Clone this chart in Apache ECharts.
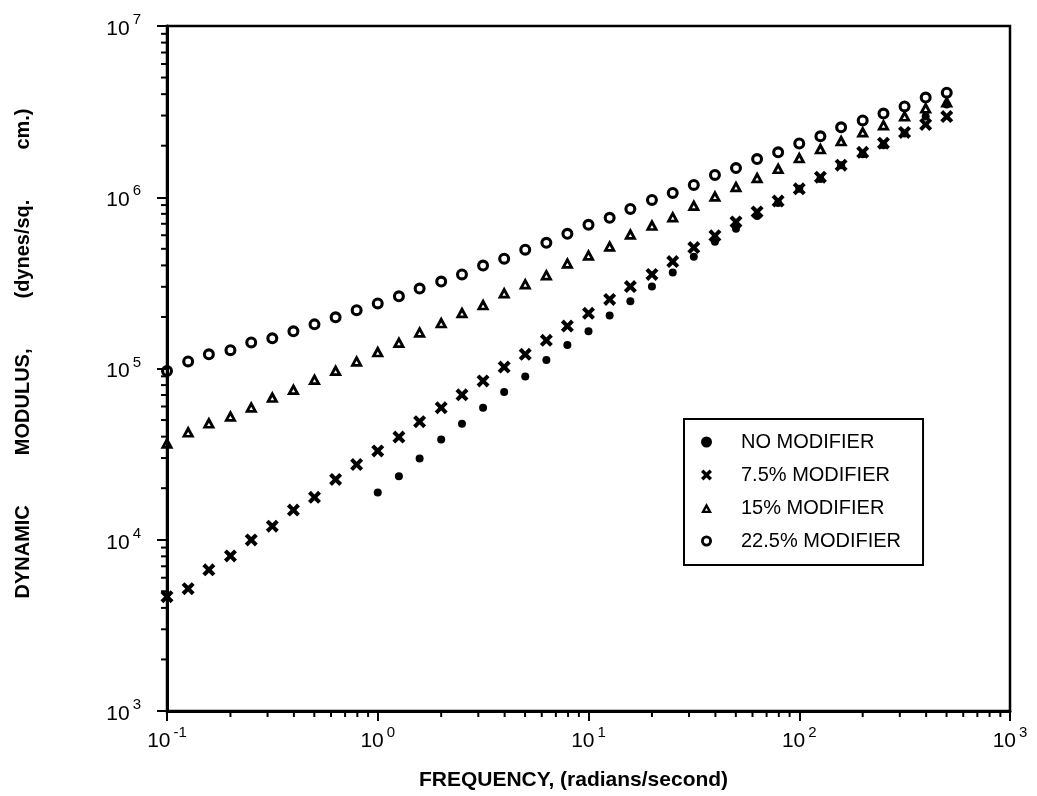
<!DOCTYPE html>
<html>
<head>
<meta charset="utf-8">
<script src="https://cdn.jsdelivr.net/npm/echarts@6/dist/echarts.min.js"></script>
<style>
  html, body { margin: 0; padding: 0; background: #fff; }
  #main { width: 1037px; height: 796px; }
</style>
</head>
<body>
<div id="main"></div>
<script>
// frequency (radians/second), 10 points per decade
var freq = [0.1, 0.126, 0.158, 0.2, 0.251, 0.316, 0.398, 0.501, 0.631, 0.794,
            1, 1.26, 1.58, 2, 2.51, 3.16, 3.98, 5.01, 6.31, 7.94,
            10, 12.6, 15.8, 20, 25.1, 31.6, 39.8, 50.1, 63.1, 79.4,
            100, 126, 158, 200, 251, 316, 398, 501]

// dynamic modulus (dynes/sq. cm.)
// no modifier starts at 1 rad/s
var noModifier = [18900, 23500, 29800, 38500, 47600, 59000, 73000, 89900, 112000, 137000,
                  165000, 204000, 247000, 301000, 363000, 450000, 550000, 654000, 778000, 926000,
                  1120000, 1280000, 1540000, 1780000, 2010000, 2360000, 2960000, 3480000]
var mod75 = [4650, 5180, 6670, 8050, 9970, 12000, 14900, 17700, 22500, 27500,
             33000, 39800, 48900, 59000, 70200, 84600, 102000, 121000, 146000, 177000,
             210000, 253000, 301000, 354000, 421000, 508000, 596000, 718000, 821000, 951000,
             1120000, 1310000, 1540000, 1830000, 2070000, 2390000, 2660000, 2960000]
var mod15 = [36900, 42800, 48300, 53000, 59800, 68300, 76000, 86900, 98000, 111000,
             126000, 143000, 164000, 186000, 213000, 237000, 278000, 314000, 354000, 415000,
             462000, 521000, 612000, 690000, 773000, 902000, 1020000, 1160000, 1310000, 1480000,
             1710000, 1930000, 2150000, 2420000, 2660000, 3000000, 3340000, 3620000]
var mod225 = [96800, 110000, 121000, 128000, 142000, 150000, 165000, 181000, 199000, 219000,
              240000, 264000, 293000, 322000, 354000, 399000, 438000, 494000, 542000, 612000,
              690000, 758000, 854000, 964000, 1060000, 1180000, 1350000, 1480000, 1670000, 1830000,
              2060000, 2270000, 2560000, 2810000, 3080000, 3390000, 3820000, 4080000]

var seriesNames = ['NO MODIFIER', '7.5% MODIFIER', '15% MODIFIER', '22.5% MODIFIER']

// minor tick positions (2..9 in every decade)
var minorMult = [2, 3, 4, 5, 6, 7, 8, 9]
var xDecades = [0.1, 1, 10, 100]
var yDecades = [1000, 10000, 100000, 1000000]

var FONT = '"Liberation Sans", Arial, Helvetica, sans-serif'

// heavy marker shapes (filled paths, inner hole runs the other way)
var crossPath = 'path://M0,2.2 L2.2,0 L5,2.8 L7.8,0 L10,2.2 L7.2,5 L10,7.8 L7.8,10 L5,7.2 L2.2,10 L0,7.8 L2.8,5 Z'
var ringPath = 'path://M0,5 A5,5 0 1,1 10,5 A5,5 0 1,1 0,5 Z M2.6,5 A2.4,2.4 0 1,0 7.4,5 A2.4,2.4 0 1,0 2.6,5 Z'
var triPath = 'path://M5,0 L10,9 L0,9 Z M5,4.6 L3.6,7 L6.4,7 Z'

function pairs(xs, ys) {
    return ys.map(function (y, i) { return [xs[i], y] })
}

var minorTicks = []
xDecades.forEach(function (d) {
    minorMult.forEach(function (m) { minorTicks.push([+(d * m).toPrecision(3), 1000, 0]) })
})
yDecades.forEach(function (d) {
    minorMult.forEach(function (m) { minorTicks.push([0.1, d * m, 1]) })
})

function powLabel(value) {
    var e = Math.round(Math.log10(value))
    return '{b|10}{s|' + e + '}'
}

var labelRich = {
    b: { fontSize: 21, fontFamily: FONT, color: '#000', lineHeight: 27, verticalAlign: 'bottom' },
    s: { fontSize: 15, fontFamily: FONT, color: '#000', lineHeight: 27, verticalAlign: 'top', padding: [0, 0, 0, 3] }
}

var sp = '         '
var markStyle = { color: '#000', opacity: 1 }

var myChart = echarts.init(document.getElementById('main'))

var option = {
    backgroundColor: '#fff',
    animation: false,
    grid: {
        left: 167, right: 27, top: 26, bottom: 81,
        show: true,
        borderColor: '#000',
        borderWidth: 2.5
    },
    legend: {
        orient: 'vertical',
        left: 684,
        top: 419,
        padding: [12, 22, 13, 17],
        itemWidth: 11,
        itemHeight: 11,
        itemGap: 11,
        borderColor: '#000',
        borderWidth: 2,
        backgroundColor: '#fff',
        formatter: function (name) { return '{t|' + name + '}' },
        textStyle: {
            fontSize: 20,
            fontFamily: FONT,
            color: '#000',
            lineHeight: 22,
            rich: {
                t: { fontSize: 20, fontFamily: FONT, color: '#000', lineHeight: 22, padding: [0, 0, 0, 24] }
            }
        },
        data: [
            { name: seriesNames[0], icon: 'circle' },
            { name: seriesNames[1], icon: crossPath },
            { name: seriesNames[2], icon: triPath },
            { name: seriesNames[3], icon: ringPath }
        ]
    },
    xAxis: {
        type: 'log',
        logBase: 10,
        min: 0.1,
        max: 1000,
        name: 'FREQUENCY, (radians/second)',
        nameLocation: 'middle',
        nameGap: 59,
        nameTextStyle: {
            fontSize: 21,
            fontWeight: 'bold',
            fontFamily: FONT,
            color: '#000',
            padding: [0, 30, 0, 0]
        },
        axisLine: { lineStyle: { color: '#000', width: 3 } },
        axisTick: { length: 10, lineStyle: { color: '#000', width: 2 } },
        axisLabel: { margin: 14, formatter: powLabel, rich: labelRich },
        splitLine: { show: false },
        minorTick: { show: false }
    },
    yAxis: {
        type: 'log',
        logBase: 10,
        min: 1000,
        max: 10000000,
        name: 'DYNAMIC' + sp + 'MODULUS,' + sp + '(dynes/sq.' + sp + 'cm.)',
        nameLocation: 'middle',
        nameGap: 134,
        nameTextStyle: {
            fontSize: 20,
            fontWeight: 'bold',
            fontFamily: FONT,
            color: '#000',
            padding: [0, 0, 0, 30]
        },
        axisLine: { lineStyle: { color: '#000', width: 3 } },
        axisTick: { length: 10, lineStyle: { color: '#000', width: 2 } },
        axisLabel: { margin: 26, formatter: powLabel, rich: labelRich },
        splitLine: { show: false },
        minorTick: { show: false }
    },
    series: [
        {
            // minor ticks on log scale at 2..9
            type: 'custom',
            silent: true,
            clip: false,
            z: 5,
            data: minorTicks,
            renderItem: function (params, api) {
                var p = api.coord([api.value(0), api.value(1)])
                var onY = api.value(2) === 1
                return {
                    type: 'line',
                    shape: onY
                        ? { x1: p[0] - 6, y1: p[1], x2: p[0], y2: p[1] }
                        : { x1: p[0], y1: p[1], x2: p[0], y2: p[1] + 6 },
                    style: { stroke: '#000', lineWidth: 2 }
                }
            }
        },
        {
            name: seriesNames[0],
            type: 'scatter',
            symbol: 'circle',
            symbolSize: 8,
            itemStyle: markStyle,
            data: pairs(freq.slice(10), noModifier)
        },
        {
            name: seriesNames[1],
            type: 'scatter',
            symbol: crossPath,
            symbolSize: 13,
            itemStyle: markStyle,
            data: pairs(freq, mod75)
        },
        {
            name: seriesNames[2],
            type: 'scatter',
            symbol: triPath,
            symbolSize: [13, 12],
            itemStyle: markStyle,
            data: pairs(freq, mod15)
        },
        {
            name: seriesNames[3],
            type: 'scatter',
            symbol: ringPath,
            symbolSize: 12,
            itemStyle: markStyle,
            data: pairs(freq, mod225)
        }
    ]
}

myChart.setOption(option)
</script>
</body>
</html>
